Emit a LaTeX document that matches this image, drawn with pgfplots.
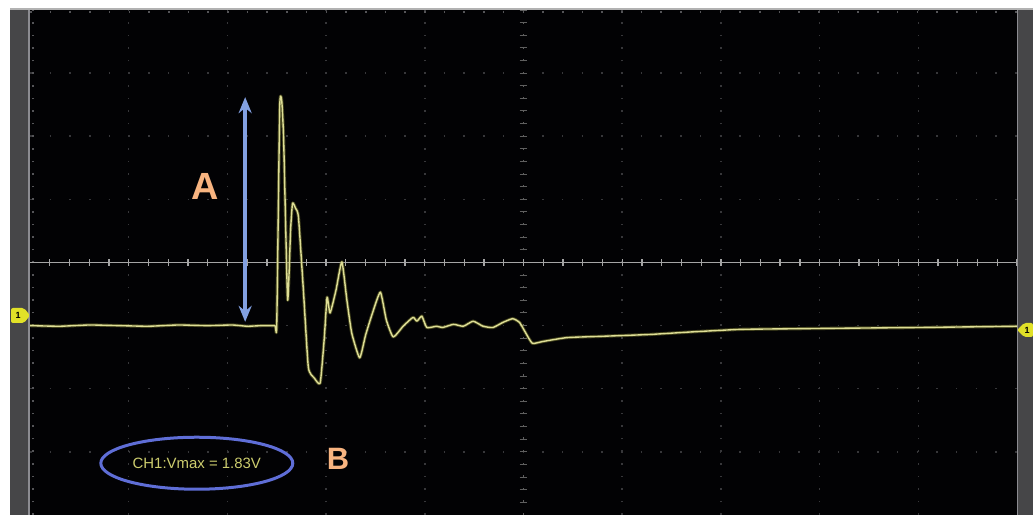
\documentclass[border=0pt]{standalone}
\usepackage{pgfplots}
\pgfplotsset{compat=1.18}
\usepackage{fontspec}
\setmainfont{Liberation Sans}
\usetikzlibrary{arrows.meta}

\definecolor{scrbg}{RGB}{2,2,4}
\definecolor{bezel}{RGB}{70,70,72}
\definecolor{bezeledge}{RGB}{140,140,145}
\definecolor{gridc}{RGB}{55,55,58}
\definecolor{gridb}{RGB}{85,85,88}
\definecolor{centreh}{RGB}{165,165,165}
\definecolor{centrev}{RGB}{95,95,95}
\definecolor{trace}{RGB}{222,222,150}
\definecolor{tracegl}{RGB}{150,150,60}
\definecolor{arrowc}{RGB}{130,160,225}
\definecolor{labelc}{RGB}{248,180,128}
\definecolor{ringc}{RGB}{95,110,215}
\definecolor{meas}{RGB}{205,205,110}
\definecolor{chmark}{RGB}{225,225,40}

\begin{document}
\begin{tikzpicture}[x=1bp,y=1bp]
\useasboundingbox (0,0) rectangle (1033,515);
% frame around the screen
\fill[white] (0,0) rectangle (1033,515);
\fill[bezel] (10,0) rectangle (28,506);
\fill[bezeledge] (28,0) rectangle (30.5,506);
\fill[bezel] (1017,0) rectangle (1033,506);
\fill[bezeledge] (1015.5,0) rectangle (1017.5,506);
\fill[gray!60] (10,505) rectangle (1033,506.5);

\begin{axis}[
  at={(30bp,0bp)}, anchor=south west,
  scale only axis, width=987bp, height=505bp,
  xmin=0, xmax=10, ymin=-4, ymax=4,
  axis background/.style={fill=scrbg},
  axis line style={draw=none},
  xtick=\empty, ytick=\empty,
  clip=true,
]
% dotted graticule
\pgfplotsinvokeforeach{1,2,3,4,6,7,8,9}{
  \draw[gridc, line width=1.5bp, dash pattern=on 1.5bp off 11.1bp]
    (axis cs:#1,-4) -- (axis cs:#1,4);
}
\pgfplotsinvokeforeach{-3,-2,-1,1,2,3}{
  \draw[gridc, line width=1.5bp, dash pattern=on 1.5bp off 18.2bp]
    (axis cs:0,#1) -- (axis cs:10,#1);
}
% border ticks
\draw[gridb, line width=1.6bp, dash pattern=on 1.6bp off 18.1bp]
  (axis cs:0,3.97) -- (axis cs:10,3.97);
\draw[gridb, line width=1.6bp, dash pattern=on 1.6bp off 11bp]
  (axis cs:0.03,-4) -- (axis cs:0.03,4);
% centre lines
\draw[centrev, line width=1.3bp, dash pattern=on 2bp off 10.6bp]
  (axis cs:5,-4) -- (axis cs:5,4);
\pgfplotsinvokeforeach{-3.8,-3.6,...,3.9}{
  \draw[centrev, line width=1bp] (axis cs:4.96,#1) -- (axis cs:5.04,#1);
}
\draw[centreh, line width=1.2bp] (axis cs:0,0) -- (axis cs:10,0);
\pgfplotsinvokeforeach{0.2,0.4,...,9.9}{
  \draw[centreh, line width=1.3bp] (axis cs:#1,-0.05) -- (axis cs:#1,0.05);
}

% CH1 waveform (divisions)
\pgfplotstableread{
x y
0.00 -1.00
0.30 -1.01
0.60 -0.99
0.90 -1.00
1.20 -1.01
1.50 -0.99
1.80 -1.00
2.05 -0.99
2.20 -1.01
2.35 -1.00
2.48 -1.00
2.50 -0.98
2.53 2.45
2.55 2.57
2.57 1.94
2.61 -0.59
2.64 0.51
2.66 0.94
2.69 0.86
2.72 0.72
2.77 -0.44
2.82 -1.66
2.88 -1.83
2.94 -1.91
2.98 -1.23
3.01 -0.55
3.04 -0.80
3.10 -0.44
3.16 0.01
3.21 -0.59
3.26 -1.12
3.34 -1.51
3.40 -1.15
3.47 -0.80
3.55 -0.47
3.61 -0.91
3.68 -1.18
3.78 -1.01
3.88 -0.87
3.92 -0.93
3.97 -0.85
4.02 -1.03
4.12 -1.01
4.18 -1.03
4.29 -0.98
4.39 -1.01
4.49 -0.93
4.59 -1.01
4.69 -1.03
4.79 -0.95
4.89 -0.89
4.96 -0.95
5.02 -1.11
5.09 -1.28
5.20 -1.25
5.44 -1.19
5.78 -1.17
6.28 -1.14
6.70 -1.10
7.19 -1.06
7.70 -1.05
8.31 -1.04
9.00 -1.03
9.50 -1.02
10.00 -1.01
}\wave
\addplot[tracegl, opacity=0.45, line width=3.2bp, line join=round, smooth, tension=0.3] table {\wave};
\addplot[trace, line width=1.4bp, line join=round, smooth, tension=0.3] table {\wave};

% annotations
\draw[arrowc, line width=3.5bp, {Stealth[length=16bp,width=13bp]}-{Stealth[length=16bp,width=13bp]}]
  (axis cs:2.18,2.62) -- (axis cs:2.18,-0.94);
\node[text=labelc, font=\fontsize{38}{40}\selectfont\bfseries] at (axis cs:1.77,1.20) {A};
\node[text=labelc, font=\fontsize{31}{33}\selectfont\bfseries] at (axis cs:3.12,-3.11) {B};
\draw[ringc, line width=3bp] (axis cs:1.69,-3.18) ellipse [x radius=96bp, y radius=26bp];
\node[text=meas, font=\fontsize{15}{17}\selectfont] at (axis cs:1.69,-3.18) {CH1:Vmax = 1.83V};
\end{axis}

% channel 1 ground markers
\fill[chmark, rounded corners=2bp] (11,207) -- (24,207) -- (30,199.5) -- (24,192) -- (11,192) -- cycle;
\node[font=\fontsize{9}{10}\selectfont\bfseries, text=black] at (18,199.5) {1};
\fill[chmark, rounded corners=2bp] (1033,192) -- (1024,192) -- (1017,185) -- (1024,178) -- (1033,178) -- cycle;
\node[font=\fontsize{9}{10}\selectfont\bfseries, text=black] at (1027,185) {1};
\end{tikzpicture}
\end{document}
